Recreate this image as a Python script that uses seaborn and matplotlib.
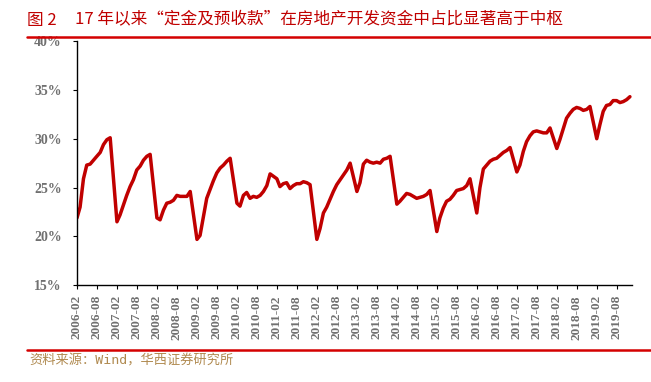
import pandas as pd
import matplotlib.pyplot as plt
import matplotlib.dates as mdates
import seaborn as sns
from matplotlib.lines import Line2D

# share of deposits & advance payments in real-estate development funds (%)
# monthly Feb-Dec (no January figure in the series)
years = list(range(2006, 2020))
months = list(range(2, 13))

v2006 = [21.9, 23.0, 25.9, 27.3, 27.4, 27.8, 28.2, 28.6, 29.4, 29.9, 30.1]
v2007 = [21.5, 22.2, 23.2, 24.2, 25.1, 25.8, 26.8, 27.2, 27.8, 28.2, 28.4]
v2008 = [21.9, 21.7, 22.7, 23.4, 23.5, 23.7, 24.2, 24.1, 24.1, 24.1, 24.6]
v2009 = [19.7, 20.1, 22.0, 23.9, 24.8, 25.7, 26.5, 27.0, 27.3, 27.7, 28.0]
v2010 = [23.4, 23.1, 24.2, 24.5, 23.9, 24.1, 24.0, 24.2, 24.6, 25.2, 26.4]
v2011 = [25.9, 25.1, 25.4, 25.5, 24.9, 25.2, 25.4, 25.4, 25.6, 25.5, 25.3]
v2012 = [19.7, 20.8, 22.4, 23.0, 23.8, 24.6, 25.3, 25.8, 26.3, 26.8, 27.5]
v2013 = [24.6, 25.5, 27.4, 27.8, 27.6, 27.5, 27.6, 27.5, 27.9, 28.0, 28.2]
v2014 = [23.3, 23.6, 24.0, 24.4, 24.3, 24.1, 23.9, 24.0, 24.1, 24.3, 24.7]
v2015 = [20.5, 21.9, 22.9, 23.6, 23.8, 24.2, 24.7, 24.8, 24.9, 25.2, 25.9]
v2016 = [22.4, 25.0, 26.9, 27.3, 27.7, 27.9, 28.0, 28.3, 28.6, 28.8, 29.1]
v2017 = [26.6, 27.3, 28.7, 29.7, 30.3, 30.7, 30.8, 30.7, 30.6, 30.6, 31.1]
v2018 = [29.0, 29.9, 31.0, 32.1, 32.6, 33.0, 33.2, 33.1, 32.9, 33.0, 33.3]
v2019 = [30.0, 31.4, 32.8, 33.4, 33.5, 33.9, 33.9, 33.7, 33.8, 34.0, 34.3]

values = [v2006, v2007, v2008, v2009, v2010, v2011, v2012,
          v2013, v2014, v2015, v2016, v2017, v2018, v2019]

rows = []
for y, vals in zip(years, values):
    for m, v in zip(months, vals):
        rows.append({"date": pd.Timestamp(y, m, 1), "share": v})
df = pd.DataFrame(rows)

sns.set_style("white")
plt.rcParams['font.family'] = ['Noto Sans CJK SC', 'DejaVu Sans']

fig = plt.figure(figsize=(6.51, 3.82), dpi=100)
ax = fig.add_axes([77 / 651, 1 - 285.3 / 382, 555 / 651, 244.3 / 382])

sns.lineplot(data=df, x="date", y="share", color="#C00000", linewidth=2.5, ax=ax)

ax.set_xlim(pd.Timestamp(2006, 2, 1), pd.Timestamp(2019, 12, 20))
ax.set_ylim(15, 40)
ax.set_xlabel("")
ax.set_ylabel("")

yticks = [15, 20, 25, 30, 35, 40]
ax.set_yticks(yticks)
ax.set_yticklabels([f"{t}%" for t in yticks])

xticks = [pd.Timestamp(y, m, 1) for y in years for m in (2, 8)]
ax.set_xticks(xticks)
ax.xaxis.set_major_formatter(mdates.DateFormatter("%Y-%m"))

for lab in ax.get_yticklabels():
    lab.set_family("Liberation Serif")
    lab.set_weight("bold")
    lab.set_color("#707070")
    lab.set_fontsize(10)
for lab in ax.get_xticklabels():
    lab.set_family("Liberation Serif")
    lab.set_weight("bold")
    lab.set_color("#707070")
    lab.set_fontsize(9.5)
    lab.set_rotation(90)

ax.tick_params(axis="y", direction="out", length=3, width=0.8, color="black", pad=8, left=True)
ax.tick_params(axis="x", direction="out", length=3, width=0.8, color="black", pad=4, bottom=True)

sns.despine(ax=ax)
for s in ("left", "bottom"):
    ax.spines[s].set_color("black")
    ax.spines[s].set_linewidth(1.0)

# header / footer
fig.text(27 / 651, 1 - 20 / 382, "图 2", color="#C00000", fontsize=12, fontweight="light",
         va="center", ha="left")
fig.text(75 / 651, 1 - 20 / 382, "17 年以来“定金及预收款”在房地产开发资金中占比显著高于中枢",
         color="#C00000", fontsize=12, fontweight="light", va="center", ha="left")
fig.add_artist(Line2D([27 / 651, 1], [1 - 36.5 / 382] * 2, color="#D40000", lw=1.8))
fig.add_artist(Line2D([27 / 651, 1], [1 - 350 / 382] * 2, color="#D40000", lw=1.8))
fig.text(29 / 651, 1 - 361 / 382, "资料来源：Wind，华西证券研究所", color="#B08A50",
         fontsize=9.5, family=["DejaVu Sans Mono", "Noto Sans CJK SC"], fontweight="light",
         va="center", ha="left")

fig.savefig("out.png", dpi=100)
